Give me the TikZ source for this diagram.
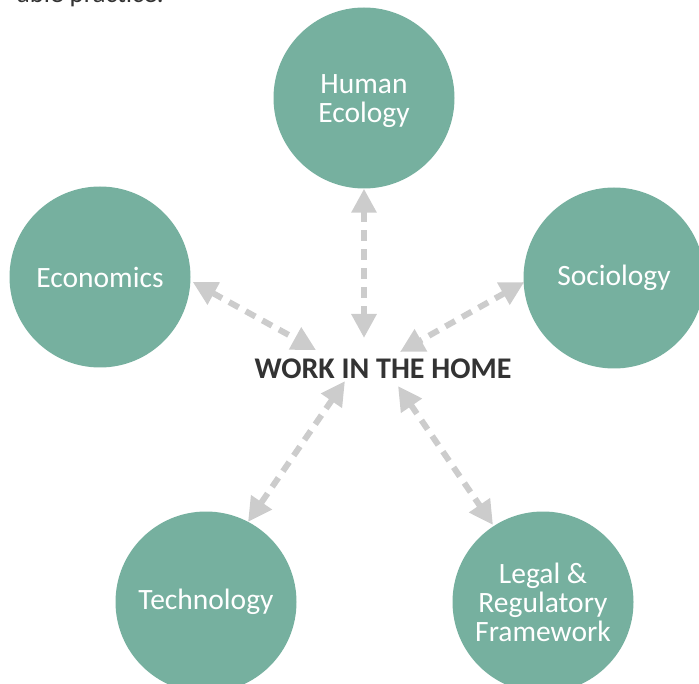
\documentclass[tikz,border=0pt]{standalone}
\usepackage{fontspec}
\setmainfont{Carlito}
\usetikzlibrary{arrows.meta}
\definecolor{teal1}{RGB}{118,176,159}
\definecolor{arrowgrey}{RGB}{204,204,204}
\definecolor{darktext}{RGB}{51,51,51}
\tikzset{
  topic/.style={circle, fill=teal1, minimum size=181pt, inner sep=0pt, text=white,
    font=\fontsize{29.5}{29}\selectfont, align=center},
  link/.style={draw=arrowgrey, line width=6pt, dash pattern=on 11pt off 8pt,
    {Triangle[length=24pt,width=24pt]}-{Triangle[length=24pt,width=24pt]}},
}
\begin{document}
\begin{tikzpicture}[x=1pt,y=-1pt]
\useasboundingbox (0,0) rectangle (699,684);
\clip (0,0) rectangle (699,684);
\node[anchor=base east, text=darktext, font=\fontsize{27}{29}\selectfont, inner sep=0pt] (top) at (164,3) {able practice.};
\node[topic] (hum) at (364,98) {};
\node[white, font=\fontsize{29.5}{29}\selectfont, align=center, inner sep=0pt] (huml) at (364,101) {Human\\Ecology};
\node[topic] (eco) at (100,277) {Economics};
\node[topic] (soc) at (614,278) {Sociology};
\node[topic] (tec) at (206,602) {Technology};
\node[topic] (leg) at (543,602) {Legal \&\\Regulatory\\Framework};
\node[font=\bfseries\fontsize{30}{32}\selectfont, text=darktext, inner sep=0pt] (work) at (383,369) {WORK IN THE HOME};
\coordinate (wn) at (364,338);
\coordinate (wnw) at (316,350);
\coordinate (wne) at (400,352);
\coordinate (wsw) at (345,381);
\coordinate (wse) at (398,386);
\coordinate (tt) at (248,522);
\coordinate (lt) at (493,525);
\draw[link] (hum.south) -- (wn);
\draw[link] ([shift={(2,5)}]eco.east) -- (wnw);
\draw[link] ([shift={(1,4)}]soc.west) -- (wne);
\draw[link] (wsw) -- (tt);
\draw[link] (wse) -- (lt);
\end{tikzpicture}
\end{document}
